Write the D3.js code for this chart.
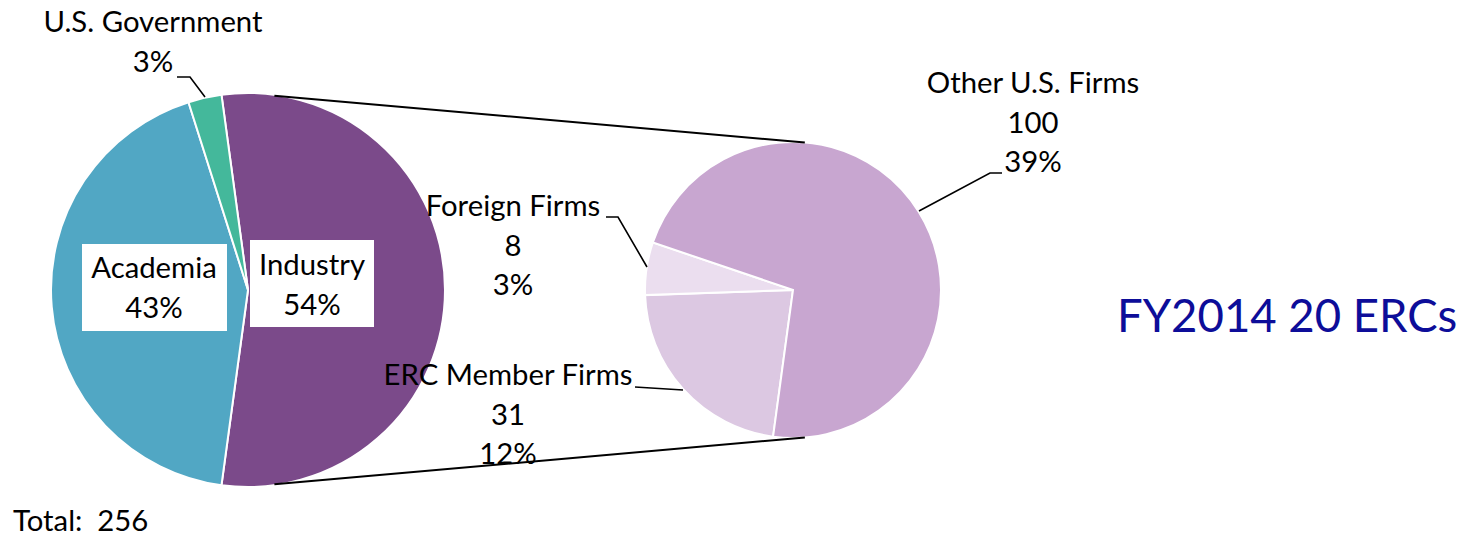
<!DOCTYPE html>
<html><head><meta charset="utf-8">
<script src="https://cdn.jsdelivr.net/npm/d3@7"></script>
<style>html,body{margin:0;padding:0;background:#fff;}svg{display:block;}text{white-space:pre;}</style>
</head><body>
<svg id="c" width="1474" height="536"></svg>
<script>
const mainCategories = ["Industry", "Academia", "U.S. Government"];
const mainValues = [139, 110, 7];
const mainColors = ["#7b4a8a", "#51a7c4", "#44b89b"];
const subCategories = ["ERC Member Firms", "Foreign Firms", "Other U.S. Firms"];
const subValues = [31, 8, 100];
const subColors = ["#dcc8e2", "#ebdeef", "#c8a6d0"];
const totalLabel = "Total:  256";
const titleText = "FY2014 20 ERCs";

const svg = d3.select("#c");
const FONT = "Lato, 'Open Sans', sans-serif";
const total = d3.sum(mainValues);
const pct = v => Math.round(v / total * 100) + "%";

// main pie
const mc = [248, 290], mr = 197;
const indAngle = mainValues[0] / total * 2 * Math.PI;
const mStart = Math.PI / 2 - indAngle / 2;
const mainPie = d3.pie().sort(null).startAngle(mStart).endAngle(mStart + 2 * Math.PI);
const mainArcs = mainPie(mainValues);
const arcM = d3.arc().innerRadius(0).outerRadius(mr);
const gM = svg.append("g").attr("transform", `translate(${mc})`);
gM.selectAll("path").data(mainArcs).join("path")
  .attr("d", arcM).attr("fill", (d, i) => mainColors[i])
  .attr("stroke", "#fff").attr("stroke-width", 2);

// sub pie
const sc = [793, 290], sr = 148;
const sStart = mainArcs[0].endAngle;
const subPie = d3.pie().sort(null).startAngle(sStart).endAngle(sStart + 2 * Math.PI);
const subArcs = subPie(subValues);
const arcS = d3.arc().innerRadius(0).outerRadius(sr);
const gS = svg.append("g").attr("transform", `translate(${sc})`);
gS.selectAll("path").data(subArcs).join("path")
  .attr("d", arcS).attr("fill", (d, i) => subColors[i])
  .attr("stroke", "#fff").attr("stroke-width", 2);

// connector lines
const pt = (c, r, a) => [c[0] + r * Math.sin(a), c[1] - r * Math.cos(a)];
const topA = -mStart; // mirror of industry start (~7.7deg)
const p1 = pt(mc, mr - 1, topA), p2 = pt(sc, sr, 0.08);
const p3 = pt(mc, mr - 1, Math.PI - topA), p4 = pt(sc, sr, Math.PI - 0.08);
svg.append("line").attr("x1", p1[0]).attr("y1", p1[1]).attr("x2", p2[0]).attr("y2", p2[1])
  .attr("stroke", "#000").attr("stroke-width", 2);
svg.append("line").attr("x1", p3[0]).attr("y1", p3[1]).attr("x2", p4[0]).attr("y2", p4[1])
  .attr("stroke", "#000").attr("stroke-width", 2);

const FS = 29.3, LH = 39.5;
function multi(x, y, lines, opts = {}) {
  const t = svg.append("text").attr("x", x).attr("y", y)
    .attr("text-anchor", opts.anchor || "middle")
    .attr("font-family", FONT).attr("font-size", opts.size || FS)
    .attr("fill", opts.fill || "#000");
  lines.forEach((l, i) => t.append("tspan").attr("x", x).attr("y", y + i * LH).text(l));
  return t;
}
function leader(points) {
  svg.append("path").attr("d", d3.line()(points)).attr("fill", "none")
    .attr("stroke", "#000").attr("stroke-width", 1.6);
}

// inside boxes
svg.append("rect").attr("x", 82).attr("y", 244).attr("width", 145).attr("height", 87).attr("fill", "#fff");
svg.append("rect").attr("x", 250).attr("y", 240).attr("width", 124).attr("height", 87).attr("fill", "#fff");
multi(154, 278, [mainCategories[1], pct(mainValues[1])]);
multi(312, 275, [mainCategories[0], pct(mainValues[0])]);

// government
multi(153, 32, [mainCategories[2], pct(mainValues[2])]);
leader([[177, 77], [190, 77], [205, 97]]);

// sub labels
multi(1033, 93, [subCategories[2], String(subValues[2]), pct(subValues[2])]);
leader([[1002, 173], [990, 173], [919, 211]]);
multi(513, 216, [subCategories[1], String(subValues[1]), pct(subValues[1])]);
leader([[606, 217], [618, 217], [647, 267]]);
multi(508, 385, [subCategories[0], String(subValues[0]), pct(subValues[0])]);
leader([[635, 387], [683, 390]]);

// title and total
svg.append("text").attr("x", 1117).attr("y", 332).attr("font-family", FONT)
  .attr("font-size", 45.5).attr("fill", "#0d0d99").text(titleText);
svg.append("text").attr("x", 13).attr("y", 531).attr("font-family", FONT)
  .attr("font-size", FS).attr("fill", "#000").text(totalLabel);
</script>
</body></html>
